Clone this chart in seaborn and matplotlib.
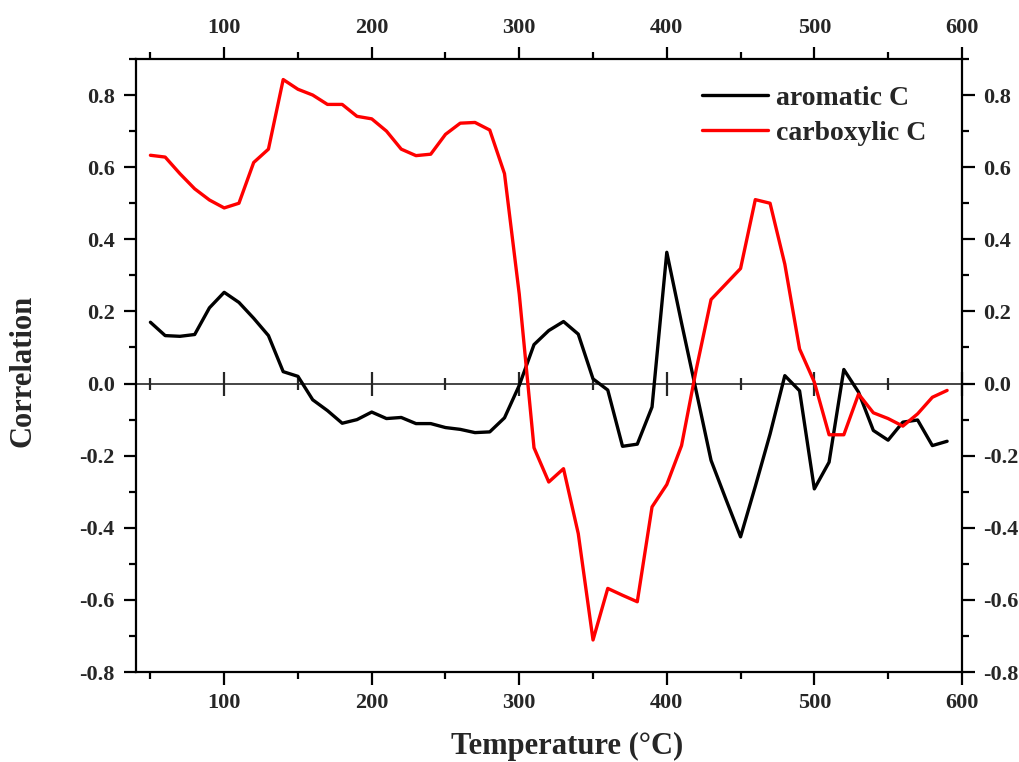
import matplotlib
matplotlib.use("Agg")
import matplotlib.pyplot as plt
from matplotlib.ticker import MultipleLocator
import pandas as pd
import seaborn as sns

# Pyrolysis temperature (°C)
temperature = [50, 60, 70, 80, 90, 100, 110, 120, 130, 140,
               150, 160, 170, 180, 190, 200, 210, 220, 230, 240,
               250, 260, 270, 280, 290, 300, 310, 320, 330, 340,
               350, 360, 370, 380, 390, 400, 410, 420, 430, 440,
               450, 460, 470, 480, 490, 500, 510, 520, 530, 540,
               550, 560, 570, 580, 590]

# Correlation coefficients per carbon type
aromatic_c = [0.170, 0.133, 0.131, 0.136, 0.210, 0.253, 0.225, 0.181, 0.133, 0.033,
              0.020, -0.045, -0.075, -0.110, -0.100, -0.079, -0.097, -0.094, -0.111, -0.111,
              -0.122, -0.127, -0.136, -0.134, -0.095, -0.005, 0.108, 0.147, 0.172, 0.137,
              0.013, -0.018, -0.174, -0.168, -0.065, 0.364, 0.168, -0.022, -0.213, -0.320,
              -0.425, -0.285, -0.140, 0.022, -0.020, -0.292, -0.218, 0.039, -0.024, -0.130,
              -0.157, -0.107, -0.101, -0.172, -0.160]

carboxylic_c = [0.633, 0.628, 0.582, 0.540, 0.509, 0.487, 0.500, 0.613, 0.650, 0.843,
                0.816, 0.800, 0.774, 0.774, 0.741, 0.734, 0.700, 0.650, 0.632, 0.636,
                0.691, 0.722, 0.724, 0.703, 0.582, 0.248, -0.178, -0.273, -0.236, -0.416,
                -0.711, -0.568, -0.587, -0.605, -0.342, -0.280, -0.172, 0.040, 0.233, 0.276,
                0.319, 0.510, 0.500, 0.331, 0.096, 0.004, -0.142, -0.142, -0.029, -0.081,
                -0.097, -0.118, -0.084, -0.038, -0.019]

series_names = ["aromatic C", "carboxylic C"]
series_colors = ["#000000", "#ff0000"]

x_ticks = [100, 200, 300, 400, 500, 600]
y_ticks = [-0.8, -0.6, -0.4, -0.2, 0.0, 0.2, 0.4, 0.6, 0.8]

df = pd.concat([
    pd.DataFrame({"Temperature": temperature, "Correlation": aromatic_c, "Series": series_names[0]}),
    pd.DataFrame({"Temperature": temperature, "Correlation": carboxylic_c, "Series": series_names[1]}),
], ignore_index=True)

sns.set_style("ticks")
plt.rcParams["font.family"] = ["Liberation Serif", "DejaVu Serif"]
plt.rcParams["font.weight"] = "bold"
plt.rcParams["axes.labelweight"] = "bold"

fig = plt.figure(figsize=(10.2, 7.62), dpi=100)
ax = fig.add_axes([0.133, 0.118, 0.810, 0.8046])

sns.lineplot(data=df, x="Temperature", y="Correlation", hue="Series",
             hue_order=series_names, palette=series_colors, linewidth=2.4,
             ax=ax, legend=True)

ax.set_xlim(40, 600)
ax.set_ylim(-0.8, 0.9)
ax.set_xticks(x_ticks)
ax.set_yticks(y_ticks)
ax.set_yticklabels([f"{v:.1f}" for v in y_ticks])
ax.xaxis.set_minor_locator(MultipleLocator(50))
ax.yaxis.set_minor_locator(MultipleLocator(0.1))

for side in ["left", "right", "top", "bottom"]:
    ax.spines[side].set_visible(True)
    ax.spines[side].set_linewidth(1.6)
    ax.spines[side].set_color("black")

ax.tick_params(which="both", direction="out", width=1.6, color="black",
               top=True, right=True, labeltop=True, labelright=True,
               labelsize=16, pad=6)
ax.tick_params(which="major", length=9)
ax.tick_params(which="minor", length=5)
for lab in ax.get_xticklabels() + ax.get_yticklabels():
    lab.set_fontweight("bold")

# Axis line through zero with crossing ticks
zero_axis = ax.secondary_xaxis(0, transform=ax.transData)
zero_axis.spines["bottom"].set_linewidth(1.2)
zero_axis.set_xticks(x_ticks)
zero_axis.xaxis.set_minor_locator(MultipleLocator(50))
zero_axis.tick_params(which="both", direction="inout", width=1.6, labelbottom=False)
zero_axis.tick_params(which="major", length=17)
zero_axis.tick_params(which="minor", length=8.5)

ax.set_xlabel("Temperature (°C)", fontsize=22, fontweight="bold", va="center")
ax.xaxis.set_label_coords(0.522, -0.121)
ax.set_ylabel("Correlation", fontsize=22, fontweight="bold", va="center", ha="center")
ax.yaxis.set_label_coords(-0.136, 0.491)

leg = ax.legend(loc="upper left", bbox_to_anchor=(0.686, 0.957), frameon=False,
                borderaxespad=0, borderpad=0, handlelength=2.36, handletextpad=0.3,
                labelspacing=0.35, prop={"size": 20, "weight": "bold"})
for line in leg.get_lines():
    line.set_linewidth(2.4)

fig.savefig("out.png", dpi=100)
